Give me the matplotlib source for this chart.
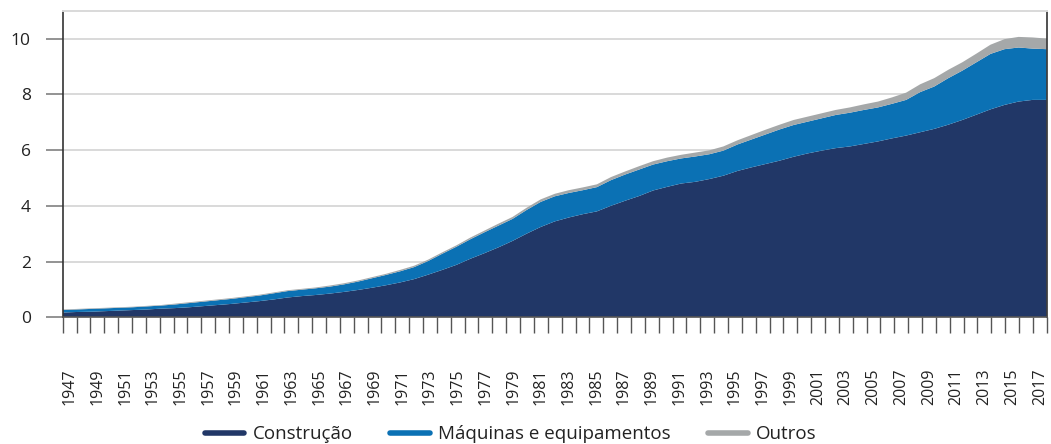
import matplotlib
matplotlib.use("Agg")
import matplotlib.pyplot as plt
from matplotlib.lines import Line2D
import numpy as np

plt.rcParams['font.family'] = ['Open Sans', 'DejaVu Sans']

years = list(range(1947, 2018))

construcao = [0.17, 0.19, 0.20, 0.22, 0.24, 0.26, 0.28, 0.31, 0.33, 0.36,
              0.40, 0.44, 0.48, 0.53, 0.58, 0.64, 0.71, 0.76, 0.80, 0.85,
              0.91, 0.98, 1.06, 1.15, 1.25, 1.37, 1.53, 1.70, 1.88, 2.10,
              2.30, 2.51, 2.74, 3.00, 3.24, 3.44, 3.58, 3.70, 3.80, 4.00,
              4.18, 4.35, 4.55, 4.68, 4.80, 4.86, 4.96, 5.08, 5.25, 5.38,
              5.50, 5.62, 5.76, 5.88, 5.98, 6.07, 6.13, 6.22, 6.31, 6.42,
              6.52, 6.64, 6.76, 6.91, 7.08, 7.27, 7.46, 7.62, 7.74, 7.80,
              7.80]

maquinas = [0.09, 0.09, 0.10, 0.10, 0.10, 0.10, 0.11, 0.11, 0.13, 0.15,
            0.16, 0.17, 0.18, 0.19, 0.20, 0.22, 0.23, 0.23, 0.24, 0.25,
            0.27, 0.30, 0.34, 0.37, 0.40, 0.43, 0.49, 0.58, 0.65, 0.70,
            0.75, 0.78, 0.79, 0.85, 0.90, 0.90, 0.88, 0.86, 0.87, 0.92,
            0.94, 0.95, 0.93, 0.92, 0.90, 0.91, 0.89, 0.90, 0.95, 1.00,
            1.06, 1.12, 1.14, 1.14, 1.16, 1.19, 1.21, 1.22, 1.22, 1.24,
            1.28, 1.44, 1.52, 1.67, 1.77, 1.88, 1.99, 2.00, 1.94, 1.84,
            1.82]

outros = [0.02, 0.02, 0.02, 0.02, 0.02, 0.02, 0.02, 0.02, 0.03, 0.03,
          0.03, 0.03, 0.03, 0.03, 0.03, 0.03, 0.03, 0.03, 0.03, 0.04,
          0.04, 0.04, 0.04, 0.04, 0.05, 0.05, 0.05, 0.05, 0.05, 0.06,
          0.06, 0.07, 0.07, 0.08, 0.09, 0.09, 0.10, 0.10, 0.10, 0.11,
          0.11, 0.12, 0.12, 0.13, 0.13, 0.14, 0.14, 0.15, 0.15, 0.16,
          0.17, 0.17, 0.18, 0.18, 0.18, 0.18, 0.19, 0.20, 0.21, 0.23,
          0.26, 0.28, 0.30, 0.30, 0.30, 0.31, 0.33, 0.36, 0.38, 0.40,
          0.38]

series_names = ['Construção', 'Máquinas e equipamentos', 'Outros']
colors = ['#213767', '#0b71b4', '#a5a8a9']

y_ticks = [0, 2, 4, 6, 8, 10]

fig = plt.figure(figsize=(10.51, 4.44), dpi=100)
ax = fig.add_axes([0.0597, 0.2854, 0.9362, 0.6905])

n = len(years)
x = np.arange(n)
ax.stackplot(x, construcao, maquinas, outros, colors=colors,
             edgecolor='none', linewidth=0)

ax.set_xlim(0, n - 1)
ax.set_ylim(0, 11)

# gridlines
ax.set_yticks(y_ticks)
ax.set_yticklabels([str(v) for v in y_ticks], fontsize=12.5, color='#222222')
ax.yaxis.grid(True, color='#d9d9d9', linewidth=1.4)
ax.set_axisbelow(True)
ax.tick_params(axis='y', direction='out', length=12, width=1.2,
               color='#808080', pad=11)

# category-boundary ticks and centered labels
span = n - 1
bounds = [i * span / n for i in range(n + 1)]
centers = [(i + 0.5) * span / n for i in range(n)]
ax.set_xticks(bounds)
ax.set_xticklabels([])
ax.tick_params(axis='x', which='major', direction='out', length=11.5,
               width=1.0, color='#555555')
ax.set_xticks(centers[::2], minor=True)
ax.set_xticklabels([str(y) for y in years[::2]], minor=True,
                   rotation=90, fontsize=11.5, color='#222222')
ax.tick_params(axis='x', which='minor', length=0, pad=37)

for side in ['left', 'right', 'bottom']:
    ax.spines[side].set_color('#333333')
    ax.spines[side].set_linewidth(1.2)
ax.spines['bottom'].set_color('#555555')
ax.spines['top'].set_color('#d9d9d9')
ax.spines['top'].set_linewidth(1.4)

handles = [Line2D([0], [0], color=c, lw=4, solid_capstyle='round')
           for c in colors]
fig.legend(handles, series_names, loc='center', ncol=3,
           bbox_to_anchor=(0.486, 0.022), frameon=False, fontsize=13.5,
           handlelength=2.1, handletextpad=0.45, columnspacing=2.0,
           borderpad=0, labelcolor='#222222')

fig.savefig('out.png', dpi=100)
